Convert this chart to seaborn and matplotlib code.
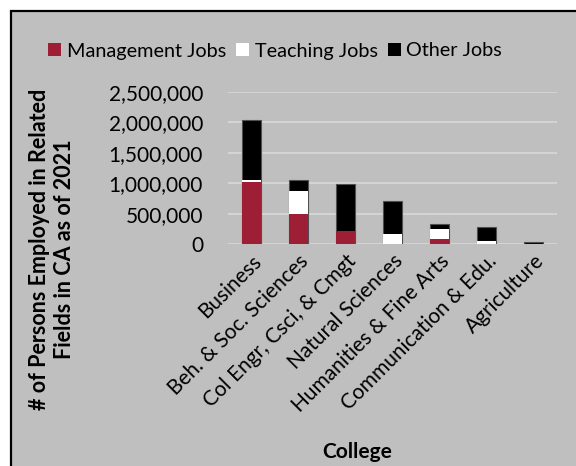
import matplotlib
matplotlib.use("Agg")
import matplotlib.pyplot as plt
import seaborn as sns
import pandas as pd
from matplotlib.patches import Patch, Rectangle
from matplotlib.ticker import FuncFormatter


# =========================================
# DATA
# =========================================

colleges = [
    "Business",
    "Beh. & Soc. Sciences",
    "Col Engr, Csci, & Cmgt",
    "Natural Sciences",
    "Humanities & Fine Arts",
    "Communication & Edu.",
    "Agriculture",
]
management_jobs = [1020000, 500000, 210000, 5000, 85000, 5000, 5000]
teaching_jobs = [30000, 365000, 5000, 165000, 160000, 50000, 3000]
other_jobs = [985000, 195000, 765000, 535000, 80000, 220000, 22000]
y_ticks = [0, 500000, 1000000, 1500000, 2000000, 2500000]

df = pd.DataFrame({
    "College": colleges,
    "Management": management_jobs,
    "Teaching": teaching_jobs,
    "Other": other_jobs,
})
df["MgmtTeach"] = df["Management"] + df["Teaching"]
df["Total"] = df["MgmtTeach"] + df["Other"]


# =========================================
# STYLE
# =========================================

sns.set_style("white")
plt.rcParams["font.family"] = ["Lato", "DejaVu Sans"]
plt.rcParams["text.color"] = "black"

bg = "#bfbfbf"
red = "#9e1f35"
fs = 15

fig = plt.figure(figsize=(5.76, 4.66), dpi=100)
fig.patch.set_facecolor("white")
fig.patches.append(Rectangle((11 / 576, -0.1), 1.2, 1.1 - 11 / 466,
                             transform=fig.transFigure, facecolor=bg,
                             edgecolor="black", linewidth=1.6, zorder=-5))

ax = fig.add_axes([228 / 576, 1 - 244 / 466, 329 / 576, 152 / 466])
ax.patch.set_alpha(0)


# =========================================
# STACKED BARS
# =========================================

sns.barplot(data=df, x="College", y="Total", color="black", width=0.4,
            saturation=1, edgecolor="#505050", linewidth=0.8, ax=ax, zorder=3)
sns.barplot(data=df, x="College", y="MgmtTeach", color="white", width=0.4,
            saturation=1, linewidth=0, ax=ax, zorder=4)
sns.barplot(data=df, x="College", y="Management", color=red, width=0.4,
            saturation=1, linewidth=0, ax=ax, zorder=5)

ax.set_ylim(0, 2500000)
ax.set_yticks(y_ticks)
ax.yaxis.set_major_formatter(FuncFormatter(lambda v, p: f"{int(v):,}"))
ax.grid(axis="y", color="#d9d9d9", linewidth=1.2, zorder=1)
ax.set_axisbelow(True)
for s in ax.spines.values():
    s.set_visible(False)

ax.tick_params(axis="y", labelsize=fs, length=0, pad=18, labelcolor="black")
ax.tick_params(axis="x", labelsize=fs, length=0, pad=5, labelcolor="black")
plt.setp(ax.get_xticklabels(), rotation=45, ha="right", rotation_mode="anchor")

ax.set_xlabel("")
ax.set_ylabel("")

fig.text(52 / 576, 1 - 249 / 466,
         "# of Persons Employed in Related\nFields in CA as of 2021",
         rotation=90, ha="center", va="center", multialignment="center",
         fontsize=15.5, fontweight="bold", color="black")
fig.text(357 / 576, 1 - 452 / 466, "College", ha="center", va="center",
         fontsize=fs, fontweight="bold", color="black")

handles = [
    Patch(facecolor=red, edgecolor="none", label="Management Jobs"),
    Patch(facecolor="white", edgecolor="none", label="Teaching Jobs"),
    Patch(facecolor="black", edgecolor="none", label="Other Jobs"),
]
fig.legend(handles=handles, loc="center", bbox_to_anchor=(275 / 576, 1 - 51 / 466),
           ncol=3, frameon=False, fontsize=14.3, handlelength=0.65,
           handleheight=0.65, handletextpad=0.3, columnspacing=0.5)

plt.savefig("out.png", dpi=100, facecolor="white")
